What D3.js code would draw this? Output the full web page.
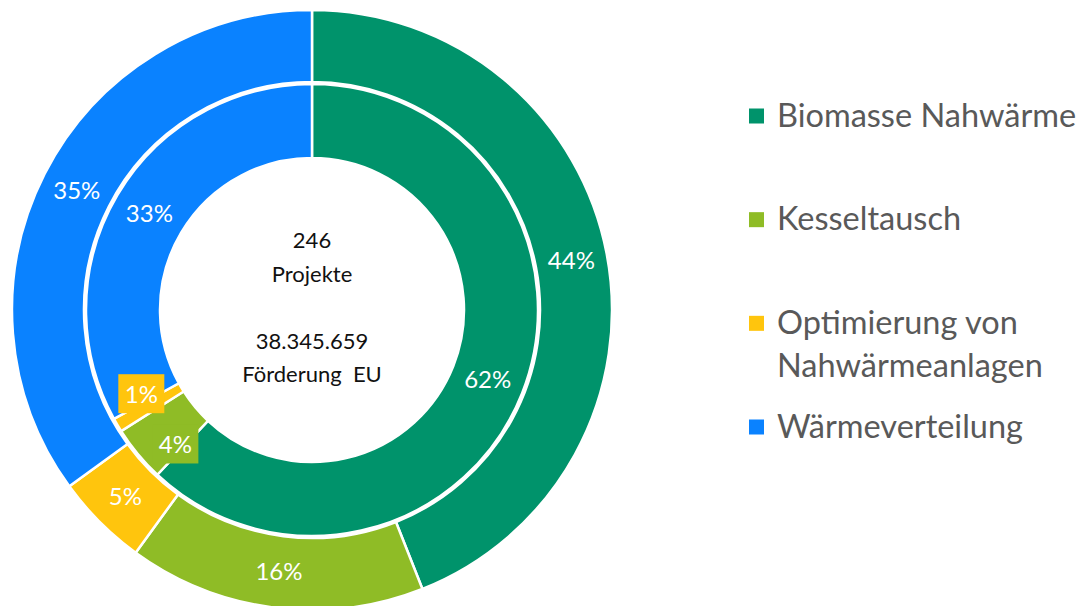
<!DOCTYPE html>
<html>
<head>
<meta charset="utf-8">
<script src="https://cdn.jsdelivr.net/npm/d3@7"></script>
<style>
  body { margin: 0; background: #fff; }
  svg { display: block; font-family: Lato, "Noto Sans", sans-serif; }
</style>
</head>
<body>
<div id="chart"></div>
<script>
"use strict";

// categories + shares (outer ring = Förderung, inner ring = Projekte)
var categories = ["Biomasse Nahwärme", "Kesseltausch", "Optimierung von Nahwärmeanlagen", "Wärmeverteilung"];
var legendLines = [["Biomasse Nahwärme"], ["Kesseltausch"], ["Optimierung von", "Nahwärmeanlagen"], ["Wärmeverteilung"]];
var outerValues = [44, 16, 5, 35];
var innerValues = [62, 4, 1, 33];
var colors = ["#00936b", "#8fbc26", "#ffc50d", "#0a82ff"];
var centerLines = ["246", "Projekte", "", "38.345.659", "Förderung  EU"];

var width = 1085, height = 606;
var cx = 312, cy = 310;

var svg = d3.select("#chart")
  .append("svg")
  .attr("width", width)
  .attr("height", height);

var g = svg.append("g")
  .attr("transform", "translate(" + cx + "," + cy + ")");

var pie = d3.pie().sort(null).value(function (d) { return d; });

var outerArc = d3.arc().innerRadius(228).outerRadius(300);
var innerArc = d3.arc().innerRadius(152).outerRadius(226);

// excel pushed the two tiny labels a bit off the centroid
var innerNudge = { 1: [9, 14], 2: [-8, -12] };

function ring(values, arc, cls, nudge) {
  var arcs = pie(values);
  var grp = g.append("g").attr("class", cls);

  grp.selectAll("path")
    .data(arcs)
    .enter().append("path")
    .attr("d", arc)
    .attr("fill", function (d, i) { return colors[i]; })
    .attr("stroke", "#fff")
    .attr("stroke-width", 2.5)
    .attr("stroke-linejoin", "miter");

  var lab = grp.selectAll("g.lab")
    .data(arcs)
    .enter().append("g")
    .attr("class", "lab")
    .attr("transform", function (d, i) {
      var c = arc.centroid(d);
      var n = nudge[i] || [0, 0];
      return "translate(" + (c[0] + n[0]) + "," + (c[1] + n[1]) + ")";
    });

  // small slices get a filled box behind the label
  lab.filter(function (d, i) { return nudge[i]; })
    .append("rect")
    .attr("x", -23).attr("y", -20)
    .attr("width", 46).attr("height", 39)
    .attr("fill", function (d) { return colors[d.index]; });

  lab.append("text")
    .attr("text-anchor", "middle")
    .attr("dy", "0.35em")
    .attr("fill", "#fff")
    .style("font-size", "24px")
    .text(function (d) { return d.value + "%"; });
}

ring(outerValues, outerArc, "outer", {});
ring(innerValues, innerArc, "inner", innerNudge);

// center text, one line per entry (empty entry = blank line)
var centerY = d3.scaleLinear().domain([0, 1]).range([248, 281.5]);
g.append("g")
  .selectAll("text")
  .data(centerLines)
  .enter().append("text")
  .attr("x", 0)
  .attr("y", function (d, i) { return centerY(i) - cy; })
  .attr("text-anchor", "middle")
  .attr("fill", "#111")
  .style("font-size", "22px")
  .style("white-space", "pre")
  .text(function (d) { return d; });

// legend
var legendY = d3.scaleLinear().domain([0, 3]).range([116, 427]);
var leg = svg.append("g").attr("class", "legend")
  .selectAll("g")
  .data(categories)
  .enter().append("g")
  .attr("transform", function (d, i) { return "translate(749," + legendY(i) + ")"; });

leg.append("rect")
  .attr("x", 0).attr("y", -7.5)
  .attr("width", 15).attr("height", 15)
  .attr("fill", function (d, i) { return colors[i]; });

leg.append("text")
  .attr("x", 28)
  .attr("y", 10.5)
  .attr("fill", "#595959")
  .style("font-size", "32.5px")
  .selectAll("tspan")
  .data(function (d, i) { return legendLines[i]; })
  .enter().append("tspan")
  .attr("x", 28)
  .attr("dy", function (d, j) { return j === 0 ? 0 : 43; })
  .text(function (d) { return d; });
</script>
</body>
</html>
